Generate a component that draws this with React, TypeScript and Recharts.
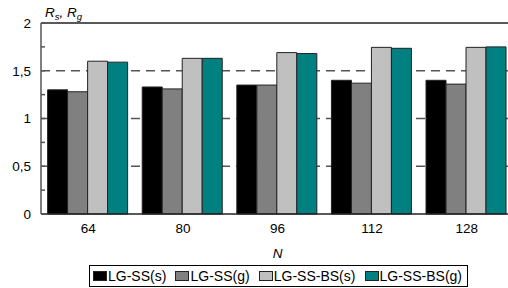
import React from 'react';
import { BarChart, Bar, XAxis, YAxis, CartesianGrid, ReferenceLine, Label } from 'recharts';

const categories = ['64', '80', '96', '112', '128'];
const lgSsS = [1.3, 1.33, 1.35, 1.4, 1.4];
const lgSsG = [1.28, 1.31, 1.35, 1.37, 1.36];
const lgSsBsS = [1.6, 1.63, 1.69, 1.745, 1.745];
const lgSsBsG = [1.59, 1.63, 1.68, 1.735, 1.75];
const yTicks = [0, 0.25, 0.5, 0.75, 1, 1.25, 1.5, 1.75, 2];
const yMax = 2;
const gridLines = [0.5, 1, 1.5];

const series = [
  { key: 'sS', name: 'LG-SS(s)', values: lgSsS, color: '#000000' },
  { key: 'sG', name: 'LG-SS(g)', values: lgSsG, color: '#808080' },
  { key: 'bS', name: 'LG-SS-BS(s)', values: lgSsBsS, color: '#c0c0c0' },
  { key: 'bG', name: 'LG-SS-BS(g)', values: lgSsBsG, color: '#008080' },
];

const data = categories.map((n, i) => {
  const row: Record<string, string | number> = { n };
  series.forEach((s) => { row[s.key] = s.values[i]; });
  return row;
});

const font = '"Liberation Sans", Arial, sans-serif';

const fmt = (v: number) => (Math.round(v * 100) % 50 === 0 ? String(v).replace('.', ',') : '');

// grid only at the labelled values, placed from the plot offset
const gridRows = ({ offset }: any) =>
  gridLines.map((v) => offset.top + offset.height * (1 - v / yMax));

const YTitle = () => (
  <text x={45} y={17} fontSize={13.5} fontStyle="italic" fill="#000" fontFamily={font}>
    R<tspan fontSize={9.5} dy={3}>s</tspan>
    <tspan dy={-3}>, R</tspan>
    <tspan fontSize={9.5} dy={3}>g</tspan>
  </text>
);

export default function App() {
  return (
    <div style={{ position: 'fixed', left: 0, top: 0, width: 508, height: 288, overflow: 'hidden', background: '#fff', fontFamily: font }}>
      <BarChart
        width={520}
        height={288}
        data={data}
        margin={{ top: 23, right: 6, left: 0, bottom: 30 }}
        barCategoryGap="7%"
        barGap={0}
      >
        <CartesianGrid
          vertical={false}
          stroke="#555"
          strokeWidth={1.5}
          strokeDasharray="9 6"
          horizontalCoordinatesGenerator={gridRows}
        />
        <ReferenceLine y={2} stroke="#222" strokeWidth={1.5} />
        <XAxis
          dataKey="n"
          height={44}
          tickLine={false}
          axisLine={{ stroke: '#222', strokeWidth: 1.5 }}
          tickMargin={3}
          tick={{ fill: '#000', fontSize: 13.5, fontFamily: font }}
        >
          <Label value="N" position="insideBottom" offset={0} fill="#000" fontSize={13.5} fontStyle="italic" fontFamily={font} />
        </XAxis>
        <YAxis
          width={41}
          domain={[0, yMax]}
          ticks={yTicks}
          interval={0}
          tickFormatter={fmt}
          tickSize={-4}
          tickMargin={14}
          tickLine={{ stroke: '#555', strokeWidth: 1.5 }}
          axisLine={{ stroke: '#555', strokeWidth: 1.5 }}
          tick={{ fill: '#000', fontSize: 13.5, fontFamily: font }}
          label={<YTitle />}
        />
        {series.map((s) => (
          <Bar key={s.key} dataKey={s.key} name={s.name} fill={s.color} stroke="#222" strokeWidth={1} isAnimationActive={false} />
        ))}
      </BarChart>
      <div
        style={{
          position: 'absolute', left: 89, top: 265, width: 379, height: 22, boxSizing: 'border-box',
          border: '1px solid #000', display: 'flex', alignItems: 'center', justifyContent: 'space-between',
          padding: '0 5px 0 3px', fontSize: 14, lineHeight: '16px', color: '#000',
        }}
      >
        {series.map((s) => (
          <span key={s.key} style={{ display: 'flex', alignItems: 'center' }}>
            <span style={{ width: 14, height: 10, boxSizing: 'border-box', background: s.color, border: '1px solid #222', marginRight: 1 }} />
            {s.name}
          </span>
        ))}
      </div>
    </div>
  );
}
